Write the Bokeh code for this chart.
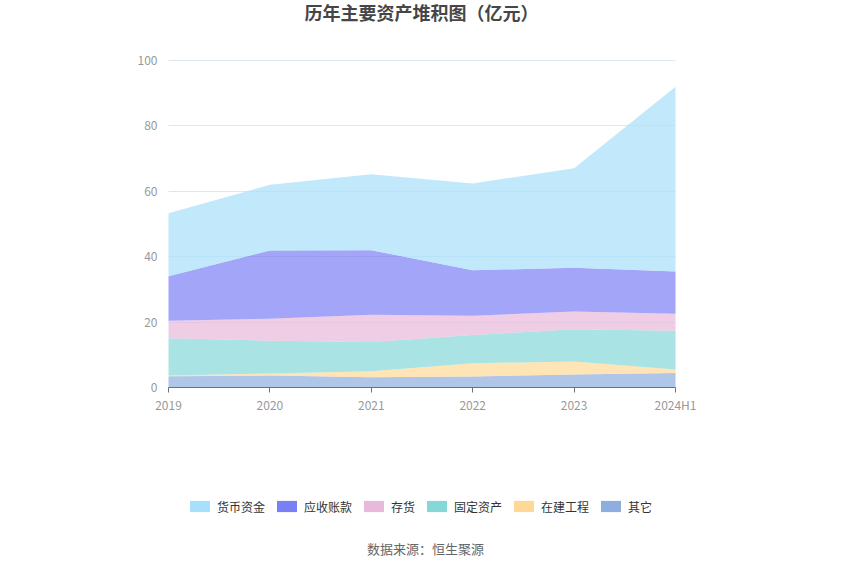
from bokeh.plotting import figure
from bokeh.models import ColumnDataSource, Legend, LegendItem, Label, Range1d, FixedTicker
from bokeh.embed import file_html
from bokeh.resources import INLINE

years = ["2019", "2020", "2021", "2022", "2023", "2024H1"]
other = [3.45, 3.66, 3.15, 3.35, 3.96, 4.47]
construction = [0.21, 0.61, 1.83, 4.07, 3.97, 1.02]
fixed_assets = [11.38, 10.06, 8.94, 8.64, 9.85, 11.89]
inventory = [5.39, 6.71, 8.34, 5.89, 5.49, 5.18]
receivables = [13.61, 20.83, 19.71, 13.92, 13.32, 12.91]
cash = [19.21, 20.12, 23.27, 26.53, 30.48, 56.50]

names = ["货币资金", "应收账款", "存货", "固定资产", "在建工程", "其它"]
colors = ["#a6e0fa", "#7b7ff5", "#e8b9da", "#86d7d7", "#ffd897", "#8eaedf"]

FONT = "Noto Sans CJK SC"

src = ColumnDataSource(dict(
    x=list(range(len(years))),
    other=other, construction=construction, fixed=fixed_assets,
    inventory=inventory, receivables=receivables, cash=cash,
))

# layout (pixels); the frame covers the whole canvas, axes sit at fixed locations
W, H = 834, 559
X0_PX, XN_PX = 168, 675           # pixel columns of first and last category
Y0_PX, Y100_PX = 387, 60          # pixel rows of value 0 and value 100
n = len(years) - 1
ppx = (XN_PX - X0_PX) / n
ppu = (Y0_PX - Y100_PX) / 100.0

def xv(px):
    return (px - X0_PX) / ppx

def yv(px):
    return (Y0_PX - px) / ppu

p = figure(width=W, height=H, output_backend="svg", toolbar_location=None,
           x_range=Range1d(xv(0), xv(W)), y_range=Range1d(yv(H), yv(0)),
           min_border_left=0, min_border_right=0, min_border_top=0,
           min_border_bottom=0)
p.outline_line_color = None
p.background_fill_color = "white"

stack_keys = ["other", "construction", "fixed", "inventory", "receivables", "cash"]
stack_colors = [colors[5], colors[4], colors[3], colors[2], colors[1], colors[0]]
p.varea_stack(stack_keys, x="x", color=stack_colors, fill_alpha=0.7, source=src)

# axes
p.xaxis.fixed_location = 0
p.xaxis.bounds = (0, n)
p.xaxis.ticker = FixedTicker(ticks=list(range(len(years))))
p.xaxis.major_label_overrides = {i: y for i, y in enumerate(years)}
p.xaxis.axis_line_color = "#6e7079"
p.xaxis.major_tick_line_color = "#6e7079"
p.xaxis.major_tick_in = 0
p.xaxis.major_tick_out = 5
p.xaxis.minor_tick_line_color = None
p.xaxis.major_label_text_color = "#999999"
p.xaxis.major_label_text_font = FONT
p.xaxis.major_label_text_font_size = "12px"
p.xaxis.major_label_standoff = 3

p.yaxis.fixed_location = 0
p.yaxis.bounds = (0, 100)
p.yaxis.ticker = FixedTicker(ticks=[0, 20, 40, 60, 80, 100])
p.yaxis.axis_line_color = None
p.yaxis.major_tick_line_color = None
p.yaxis.minor_tick_line_color = None
p.yaxis.major_label_text_color = "#999999"
p.yaxis.major_label_text_font = FONT
p.yaxis.major_label_text_font_size = "12px"
p.yaxis.major_label_standoff = 5

p.xgrid.grid_line_color = None
p.ygrid.grid_line_color = "#e0e6f1"
p.ygrid.grid_line_width = 1
p.ygrid.bounds = (0, 100)
p.ygrid.cross_bounds = (0, n)

# title and source note
p.add_layout(Label(x=xv(421), y=yv(11), text="历年主要资产堆积图（亿元）",
                   text_align="center", text_baseline="middle", text_font=FONT,
                   text_font_size="18px", text_font_style="bold", text_color="#464646"))
p.add_layout(Label(x=xv(425), y=yv(548), text="数据来源：恒生聚源",
                   text_align="center", text_baseline="middle", text_font=FONT,
                   text_font_size="13px", text_color="#666666"))

# legend with full-colour swatches (zero-height areas, invisible in the plot)
items = []
for nm, c in zip(names, colors):
    r = p.varea(x="x", y1=0, y2=0, fill_color=c, fill_alpha=1.0, source=src)
    items.append(LegendItem(label=nm, renderers=[r]))
legend = Legend(items=items, orientation="horizontal", location=(187, H - 516),
                glyph_width=25, glyph_height=14, label_standoff=5, spacing=9,
                label_height=20, label_text_font=FONT, label_text_font_size="12px",
                label_text_color="#333333", border_line_color=None,
                background_fill_alpha=0, padding=0, margin=0)
p.add_layout(legend, "center")

open("out.html", "w").write(file_html(p, INLINE))
